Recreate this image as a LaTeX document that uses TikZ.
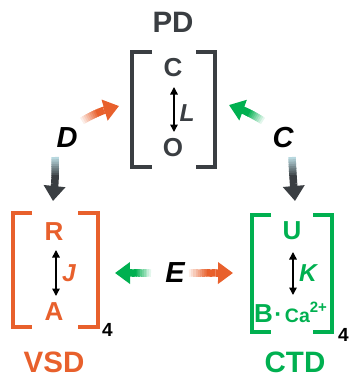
\documentclass[tikz,border=0pt]{standalone}
\usepackage{fontspec}
\setmainfont{Liberation Sans}
\usetikzlibrary{arrows.meta,calc}
\definecolor{dk}{RGB}{58,62,66}
\definecolor{org}{RGB}{232,96,44}
\definecolor{grn}{RGB}{0,176,80}
\definecolor{tailcyan}{RGB}{200,235,242}
% #1 name, #2 colour, #3 tail colour, #4 tail, #5 control, #6 tip
\newcommand\fadearrow[6]{%
  \foreach \i in {0,...,20}{%
    \pgfmathsetmacro\myt{\i/20}%
    \pgfmathsetmacro\kA{(1-\myt)^2}%
    \pgfmathsetmacro\kB{2*\myt*(1-\myt)}%
    \pgfmathsetmacro\kC{\myt^2}%
    \coordinate (#1-\i) at ($\kA*(#4)+\kB*(#5)+\kC*(#6)$);
  }%
  \foreach \i [evaluate=\i as \j using int(\i+1),
               evaluate=\i as \pc using int(100*(\i+1)/9)] in {0,...,8}{%
    \draw[shaft, color=#2!\pc!#3, shorten >=-0.6pt] (#1-\i) -- (#1-\j);
  }%
  \draw[shaft, #2, line join=round] (#1-9) -- (#1-10) -- (#1-11) -- (#1-12);
  \draw[shaft, #2, -{Triangle[length=15pt,width=21pt]}] (#1-12) -- (#1-20);
}
\begin{document}
\begin{tikzpicture}[x=1pt,y=-1pt,
  brk/.style={line width=4.5pt, line join=miter, line cap=butt},
  shaft/.style={line width=7.5pt, line cap=butt},
  big/.style={font=\bfseries\fontsize{26}{26}\selectfont, inner sep=0pt},
  ttl/.style={font=\bfseries\fontsize{29.5}{30}\selectfont, inner sep=0pt},
  ital/.style={font=\bfseries\itshape\fontsize{24.5}{25}\selectfont, inner sep=0pt},
  rlab/.style={font=\bfseries\itshape\fontsize{29}{29}\selectfont, inner sep=0pt},
  sub/.style={font=\bfseries\fontsize{19}{19}\selectfont, inner sep=0pt},
  rev/.style={line width=1.5pt, arrows={Triangle[length=7.5pt,width=7.5pt]-Triangle[length=7.5pt,width=7.5pt]}},
]
\useasboundingbox (0,0) rectangle (350,378);

% ---------- PD ----------
\node[ttl, text=dk] (pdt) at (173,22) {PD};
\draw[brk, dk] (152,52) -- (132,52) -- (132,167) -- (152,167);
\draw[brk, dk] (196,52) -- (215,52) -- (215,167) -- (196,167);
\node[big, text=dk] (pdC) at (173,68) {C};
\node[big, text=dk] (pdO) at (173,148) {O};
\coordinate (pdA1) at (174,87);
\coordinate (pdA2) at (174,132);
\draw[rev] (pdA1) -- (pdA2);
\node[ital, text=dk] (pdL) at (187,113) {L};

% ---------- VSD ----------
\draw[brk, org] (32,213) -- (13,213) -- (13,327) -- (32,327);
\draw[brk, org] (78,213) -- (98,213) -- (98,327) -- (78,327);
\node[big, text=org] (vR) at (54,232) {R};
\node[big, text=org] (vA) at (54,312) {A};
\coordinate (vA1) at (56,250);
\coordinate (vA2) at (56,296);
\draw[rev] (vA1) -- (vA2);
\node[ital, text=org] (vJ) at (69,273) {J};
\node[sub] (v4) at (107.5,330) {4};
\node[ttl, text=org] (vt) at (54,362) {VSD};

% ---------- CTD ----------
\draw[brk, grn] (271,215) -- (252,215) -- (252,332) -- (271,332);
\draw[brk, grn] (313,215) -- (332,215) -- (332,332) -- (313,332);
\node[big, text=grn] (cU) at (292,231) {U};
\node[big, text=grn, anchor=base west] (cB) at (254,322)
  {B\hspace{1.5pt}{\fontsize{24}{24}\selectfont ·}\hspace{2.5pt}{\fontsize{19.5}{20}\selectfont Ca\raisebox{9.5pt}{\fontsize{15}{15}\selectfont 2+}}};
\coordinate (cA1) at (293,252);
\coordinate (cA2) at (293,295);
\draw[rev] (cA1) -- (cA2);
\node[ital, text=grn] (cK) at (308,273) {K};
\node[sub] (c4) at (343.5,335) {4};
\node[ttl, text=grn] (ct) at (295,362) {CTD};

% ---------- coupling labels ----------
\node[rlab] (lD) at (67,138) {D};
\node[rlab] (lC) at (283,138) {C};
\node[rlab] (lE) at (175,273) {E};

% ---------- fading arrows ----------
\coordinate (dO0) at (82,121);  \coordinate (dO1) at (100,110); \coordinate (dO2) at (119,106);
\coordinate (dK0) at (55,157);  \coordinate (dK1) at (56,180);  \coordinate (dK2) at (53,201);
\coordinate (cG0) at (263,121); \coordinate (cG1) at (246,110); \coordinate (cG2) at (229,105);
\coordinate (cK0) at (292,157); \coordinate (cK1) at (293,180); \coordinate (cK2) at (295,201);
\coordinate (eG0) at (151,273); \coordinate (eG1) at (133,273); \coordinate (eG2) at (115,273);
\coordinate (eO0) at (189,273); \coordinate (eO1) at (211,273); \coordinate (eO2) at (233,273);

\fadearrow{ad}{org}{white}{dO0}{dO1}{dO2}
\fadearrow{adk}{dk}{tailcyan}{dK0}{dK1}{dK2}
\fadearrow{ac}{grn}{white}{cG0}{cG1}{cG2}
\fadearrow{ack}{dk}{tailcyan}{cK0}{cK1}{cK2}
\fadearrow{aeg}{grn}{white}{eG0}{eG1}{eG2}
\fadearrow{aeo}{org}{white}{eO0}{eO1}{eO2}
\end{tikzpicture}
\end{document}
